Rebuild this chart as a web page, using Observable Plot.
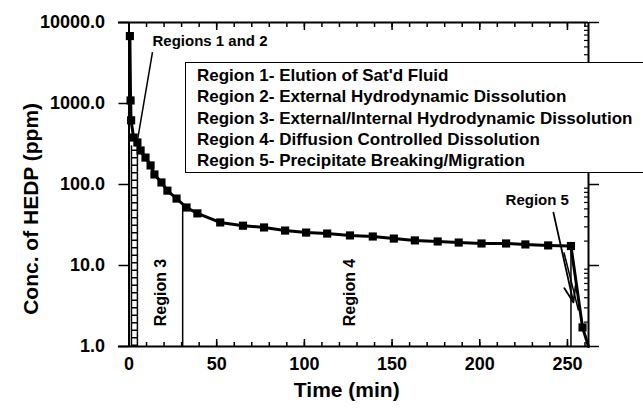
<!DOCTYPE html>
<html>
<head>
<meta charset="utf-8">
<script src="https://cdn.jsdelivr.net/npm/d3@7"></script>
<script src="https://cdn.jsdelivr.net/npm/@observablehq/plot@0.6"></script>
<style>
  body { margin: 0; background: #fff; }
  #wrap { position: relative; width: 643px; height: 412px; font-family: "Liberation Sans", Arial, Helvetica, sans-serif; font-weight: bold; color: #000; }
  #legend { position: absolute; left: 185px; top: 62px; width: 458px; height: 111px; box-sizing: border-box;
            border: 1.5px solid #000; border-right: none; background: #fff; padding: 2px 0 0 11px; font-size: 17px; line-height: 21.3px; white-space: nowrap; }
</style>
</head>
<body>
<div id="wrap"><div id="legend"></div></div>
<script>
// HEDP effluent concentration (ppm) versus elapsed time (min)
const time = [0.5, 0.9, 1.2, 2.6, 4.8, 6.6, 9.4, 12.3, 14.5, 18.5, 21.9, 27.1, 32.8, 39,
              52, 65, 77, 89, 101, 113, 126, 139, 151, 163, 176, 188, 201, 215, 226, 239, 252, 258.6];
const conc = [6800, 1090, 620, 380, 330, 263, 215, 172, 133, 106, 84, 67, 52, 44,
              34, 31, 29.5, 27, 25.5, 24.8, 23.5, 22.8, 21.5, 20.4, 19.8, 19.2, 18.7, 18.7, 18.2, 17.7, 17.4, 1.72];

// fitted curve runs on past the last sample down to the axis
const tailTime = [262];
const tailConc = [1.0];

// region descriptions shown in the boxed key
const regionNotes = [
  "Region 1- Elution of Sat'd Fluid",
  "Region 2- External Hydrodynamic Dissolution",
  "Region 3- External/Internal Hydrodynamic Dissolution",
  "Region 4- Diffusion Controlled Dissolution",
  "Region 5- Precipitate Breaking/Migration"
];

// region boundaries (time, concentration where the boundary meets the curve)
const boundaryTime = [30.6, 252];
const boundaryTop = [55, 17.4];

// regions 1/2 band (hatched ladder)
const bandEdges = [1.4, 4.8];
const bandMid = [3.1];
const bandTop = 300;

// in-plot region labels
const sideLabels = ["Region 3", "Region 4"];
const sideLabelTime = [18, 125.8];
const sideLabelConc = [4.64, 4.64];

// axis ticks
const yMajor = [1, 10, 100, 1000, 10000];
const xMajor = [0, 50, 100, 150, 200, 250];
const xMinor = d3.range(0, 261, 10);
const yMinor = yMajor.slice(0, -1).flatMap(d => d3.range(2, 10).map(k => k * d));

const samples = time.map((t, i) => ({t, c: conc[i]}));
const fit = samples.concat(tailTime.map((t, i) => ({t, c: tailConc[i]})));
const boundaries = boundaryTime.map((t, i) => ({t, top: boundaryTop[i]}));

const font = "'Liberation Sans', Arial, Helvetica, sans-serif";

const chart = Plot.plot({
  width: 643,
  height: 412,
  marginLeft: 128.5,
  marginRight: 55,
  marginTop: 22,
  marginBottom: 66,
  style: {fontFamily: font, fontWeight: "bold", background: "white", color: "black", overflow: "visible"},
  x: {domain: [0, 262]},
  y: {type: "log", domain: [1, 10000]},
  marks: [
    // frame
    Plot.ruleY([1, 10000], {x1: -6, x2: 262, strokeWidth: 2}),
    Plot.ruleX([0, 262], {strokeWidth: 2}),

    // bottom axis: inward ticks + labels
    Plot.axisX(xMinor, {anchor: "bottom", tickSize: -4, fill: "none", label: null, strokeWidth: 1.5}),
    Plot.axisX(xMajor, {anchor: "bottom", tickSize: -7, fill: "none", label: null, strokeWidth: 1.5}),
    Plot.axisX(xMajor, {anchor: "bottom", tickSize: 0, tickPadding: 11, fontSize: 18, label: null}),

    // top axis: inward ticks
    Plot.axisX(xMinor, {anchor: "top", tickSize: -4, fill: "none", label: null, strokeWidth: 1.5}),
    Plot.axisX(xMajor, {anchor: "top", tickSize: -7, fill: "none", label: null, strokeWidth: 1.5}),

    // left axis: outward decade ticks + labels
    Plot.axisY(yMajor, {anchor: "left", tickSize: 10, tickPadding: 14, fontSize: 18,
                        tickFormat: d3.format(".1f"), label: null, strokeWidth: 1.5}),

    // right axis: outward decade ticks, inward minor ticks
    Plot.axisY(yMajor, {anchor: "right", tickSize: 10, fill: "none", label: null, strokeWidth: 1.5}),
    Plot.axisY(yMinor, {anchor: "right", tickSize: -5, fill: "none", label: null, strokeWidth: 1.2}),

    // regions 1/2 band
    Plot.ruleX(bandEdges, {y1: 1, y2: bandTop, strokeWidth: 1.5}),
    Plot.ruleX(bandMid, {y1: 1, y2: bandTop, strokeWidth: 6, strokeDasharray: "1.5,6"}),

    // region boundaries
    Plot.ruleX(boundaries, {x: "t", y1: 1, y2: "top", strokeWidth: 1.5}),

    // fitted curve and measured points
    Plot.line(fit, {x: "t", y: "c", strokeWidth: 3}),
    Plot.dot(samples, {x: "t", y: "c", symbol: "square", r: 4.6, fill: "black"}),

    // annotations
    Plot.text(["Regions 1 and 2"], {x: 13.4, y: 5800, textAnchor: "start", fontSize: 15}),
    Plot.link([0], {x1: 13.4, y1: 4300, x2: 4.8, y2: 349, strokeWidth: 1.5}),
    Plot.text(sideLabels, {x: (d, i) => sideLabelTime[i], y: (d, i) => sideLabelConc[i], rotate: -90, fontSize: 16}),
    Plot.text(["Region 5"], {x: 214.7, y: 63.4, textAnchor: "start", fontSize: 15}),
    Plot.arrow([0], {x1: 242, y1: 45, x2: 253.4, y2: 3.5, strokeWidth: 1.8, headLength: 14, headAngle: 40}),
    Plot.link([0], {x1: 248, y1: 14.5, x2: 256.3, y2: 2.78, strokeWidth: 1.5}),

    // axis titles
    Plot.text(["Conc. of HEDP (ppm)"], {x: -56, y: 50, rotate: -90, fontSize: 21}),
    Plot.text(["Time (min)"], {frameAnchor: "bottom", dx: -12, dy: 50, fontSize: 21})
  ]
});

const wrap = document.getElementById("wrap");
wrap.insertBefore(chart, wrap.firstChild);
const legend = document.getElementById("legend");
regionNotes.forEach(s => {
  const div = document.createElement("div");
  div.textContent = s;
  legend.appendChild(div);
});
</script>
</body>
</html>
